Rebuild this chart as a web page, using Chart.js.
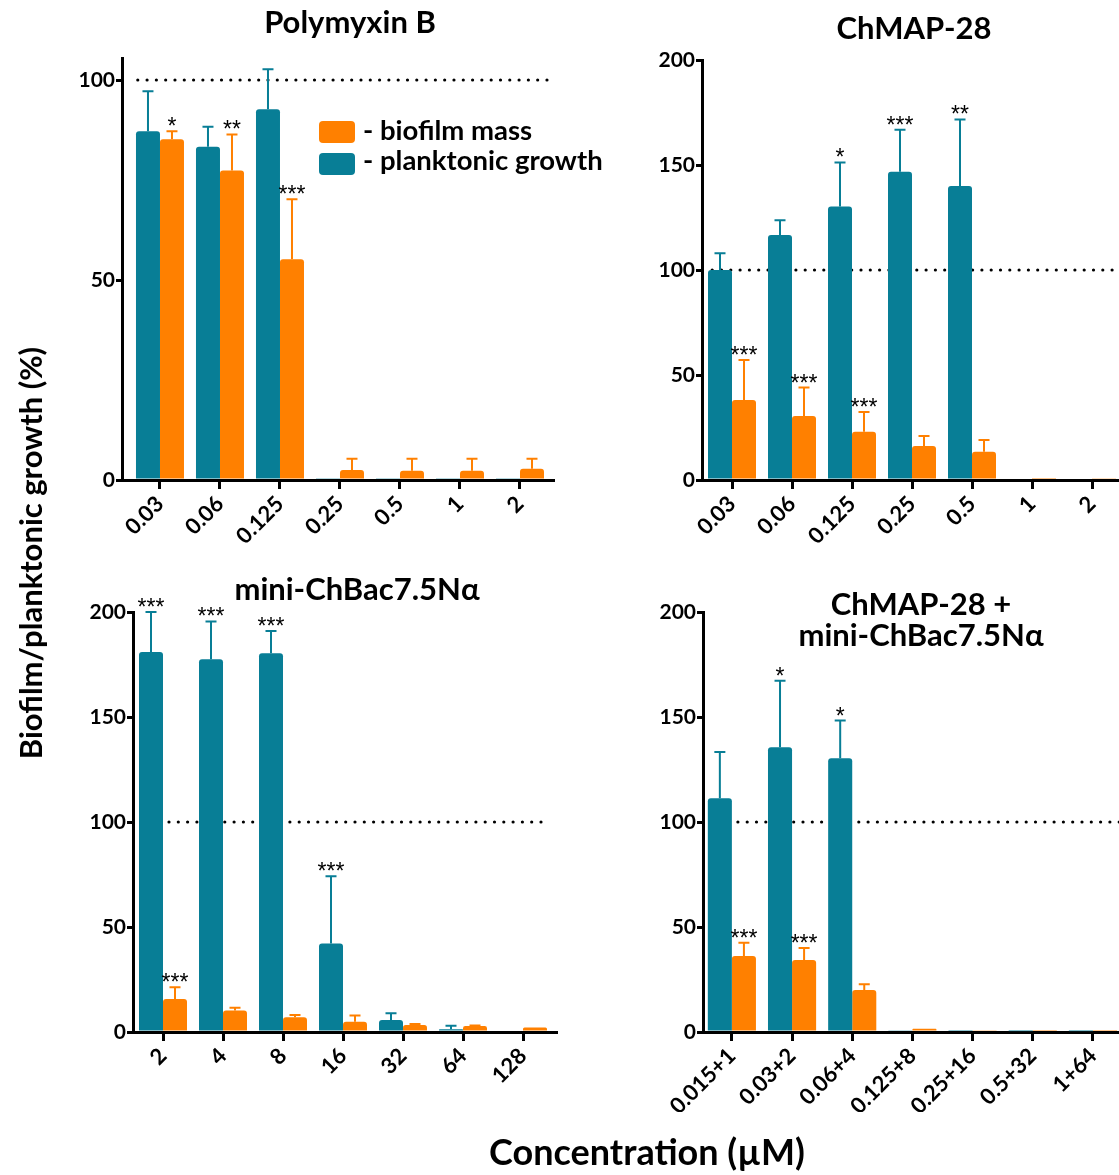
<!DOCTYPE html>
<html>
<head>
<meta charset="utf-8">
<script src="https://cdn.jsdelivr.net/npm/chart.js@4.4.1/dist/chart.umd.min.js"></script>
<style>
  html, body { margin: 0; padding: 0; background: #fff; overflow: hidden; }
  #page { position: relative; width: 1119px; height: 1175px; overflow: hidden; font-family: 'Lato', sans-serif; color: #000; }
  #page canvas { position: absolute; }
  .txt { position: absolute; font-weight: bold; white-space: nowrap; z-index: 2; }
  .title { font-size: 31px; line-height: 31px; text-align: center; }
  .legend-box { position: absolute; width: 36px; height: 22px; border-radius: 4px; z-index: 2; }
</style>
</head>
<body>
<div id="page">
  <canvas id="chartPoly" width="580" height="570" style="left:0px;top:0px"></canvas>
  <canvas id="chartChmap" width="560" height="570" style="left:580px;top:0px"></canvas>
  <canvas id="chartChbac" width="580" height="580" style="left:0px;top:560px"></canvas>
  <canvas id="chartCombo" width="560" height="580" style="left:580px;top:560px"></canvas>

  <div class="txt title" style="left:150px;top:6px;width:400px">Polymyxin B</div>
  <div class="txt title" style="left:714px;top:12px;width:400px">ChMAP-28</div>
  <div class="txt title" style="left:157px;top:573px;width:400px">mini-ChBac7.5Nα</div>
  <div class="txt title" style="left:721px;top:588px;width:400px;line-height:31px">ChMAP-28 +<br>mini-ChBac7.5Nα</div>

  <div class="legend-box" style="left:319px;top:121px;background:#ff8000"></div>
  <div class="legend-box" style="left:319px;top:153px;background:#087e96"></div>
  <div class="txt" style="left:363px;top:116px;font-size:27.5px;line-height:27.5px">- biofilm mass</div>
  <div class="txt" style="left:363px;top:146px;font-size:27.5px;line-height:27.5px">- planktonic growth</div>

  <div class="txt" style="left:347px;top:1133px;width:600px;text-align:center;font-size:36px;line-height:36px">Concentration (µM)</div>
  <div class="txt" style="left:-220px;top:537px;width:500px;text-align:center;font-size:31px;line-height:32px;transform:rotate(-90deg)">Biofilm/planktonic growth (%)</div>
</div>

<script>
// Colours used throughout
const tealColor = '#087e96';
const orangeColor = '#ff8000';
const fontFamily = "'Lato', sans-serif";
const starFont = "23px 'Liberation Sans', sans-serif";

// Polymyxin B
const polyLabels = ['0.03', '0.06', '0.125', '0.25', '0.5', '1', '2'];
const polyPlanktonic = [87.2, 83.3, 92.7, 0.3, 0.3, 0.3, 0.3];
const polyPlanktonicErr = [10, 5, 10, 0, 0, 0, 0];
const polyBiofilm = [85.2, 77.4, 55.2, 2.5, 2.3, 2.3, 2.8];
const polyBiofilmErr = [2, 9, 15, 2.8, 3, 3, 2.5];
const polyPlanktonicStars = ['', '', '', '', '', '', ''];
const polyBiofilmStars = ['*', '**', '***', '', '', '', ''];

// ChMAP-28
const chmapLabels = ['0.03', '0.06', '0.125', '0.25', '0.5', '1', '2'];
const chmapPlanktonic = [100, 116.7, 130.2, 146.8, 140, 0, 0];
const chmapPlanktonicErr = [8, 7, 21, 20, 31.7, 0, 0];
const chmapBiofilm = [38.1, 30.5, 23, 16.2, 13.5, 0.5, 0.8];
const chmapBiofilmErr = [19, 13.5, 9.4, 4.8, 5.5, 0, 0];
const chmapPlanktonicStars = ['', '', '*', '***', '**', '', ''];
const chmapBiofilmStars = ['***', '***', '***', '', '', '', ''];

// mini-ChBac7.5Na
const chbacLabels = ['2', '4', '8', '16', '32', '64', '128'];
const chbacPlanktonic = [181, 177.5, 180.3, 42.2, 5.7, 1.3, 0];
const chbacPlanktonicErr = [19, 18, 10.7, 32, 3.2, 1.7, 0];
const chbacBiofilm = [15.7, 10.2, 7, 4.9, 3.3, 2.9, 2.2];
const chbacBiofilmErr = [5.6, 1.4, 1.1, 2.9, 0.5, 0.2, 0];
const chbacPlanktonicStars = ['***', '***', '***', '***', '', '', ''];
const chbacBiofilmStars = ['***', '', '', '', '', '', ''];

// ChMAP-28 + mini-ChBac7.5Na
const comboLabels = ['0.015+1', '0.03+2', '0.06+4', '0.125+8', '0.25+16', '0.5+32', '1+64'];
const comboPlanktonic = [111.3, 135.6, 130.3, 0.8, 0.5, 0.4, 0.4];
const comboPlanktonicErr = [22, 31.7, 18, 0, 0, 0, 0];
const comboBiofilm = [36.2, 34.3, 20, 1.5, 0.8, 0.5, 0.5];
const comboBiofilmErr = [6.3, 5.7, 2.7, 0, 0, 0, 0];
const comboPlanktonicStars = ['', '*', '*', '', '', '', ''];
const comboBiofilmStars = ['***', '***', '', '', '', '', ''];

// Draws the dotted 100% line under the bars, error bars and asterisks above them
const extrasPlugin = {
  id: 'extras',
  beforeDatasetsDraw(chart, args, opts) {
    const { ctx, scales: { x, y } } = chart;
    const yy = y.getPixelForValue(100);
    ctx.save();
    ctx.strokeStyle = '#000';
    ctx.lineWidth = 3.2;
    ctx.lineCap = 'round';
    ctx.setLineDash([0, 9.3]);
    ctx.beginPath();
    ctx.moveTo(x.getPixelForValue(opts.refFrom), yy);
    ctx.lineTo(x.getPixelForValue(opts.refTo), yy);
    ctx.stroke();
    ctx.restore();
  },
  afterDatasetsDraw(chart) {
    const { ctx, scales: { y } } = chart;
    ctx.save();
    chart.data.datasets.forEach((ds, i) => {
      const meta = chart.getDatasetMeta(i);
      meta.data.forEach((bar, j) => {
        const err = ds.errors[j];
        let top = bar.y;
        if (err > 0) {
          top = y.getPixelForValue(ds.data[j] + err);
          ctx.strokeStyle = ds.backgroundColor;
          ctx.lineWidth = 2;
          ctx.beginPath();
          ctx.moveTo(bar.x, bar.y);
          ctx.lineTo(bar.x, top);
          ctx.moveTo(bar.x - 5.5, top);
          ctx.lineTo(bar.x + 5.5, top);
          ctx.stroke();
        }
        const star = ds.stars[j];
        if (star) {
          ctx.fillStyle = '#000';
          ctx.font = starFont;
          ctx.textAlign = 'center';
          ctx.textBaseline = 'alphabetic';
          ctx.fillText(star, bar.x, top + 3);
        }
      });
    });
    ctx.restore();
  }
};

function createPanel(id, cfg) {
  const ctx = document.getElementById(id);
  return new Chart(ctx, {
    type: 'bar',
    data: {
      labels: cfg.labels.map((_, i) => i),
      datasets: [
        {
          label: '- planktonic growth',
          data: cfg.planktonic,
          errors: cfg.planktonicErr,
          stars: cfg.planktonicStars,
          backgroundColor: tealColor
        },
        {
          label: '- biofilm mass',
          data: cfg.biofilm,
          errors: cfg.biofilmErr,
          stars: cfg.biofilmStars,
          backgroundColor: orangeColor
        }
      ]
    },
    options: {
      responsive: false,
      animation: false,
      devicePixelRatio: 1,
      layout: { padding: cfg.padding },
      datasets: {
        bar: {
          barPercentage: 1,
          categoryPercentage: 0.8,
          borderRadius: { topLeft: 3, topRight: 3 },
          borderSkipped: 'start'
        }
      },
      plugins: {
        legend: { display: false },
        tooltip: { enabled: false },
        extras: { refFrom: cfg.refFrom, refTo: cfg.refTo }
      },
      scales: {
        x: {
          type: 'linear',
          min: cfg.xMin,
          max: cfg.xMax,
          offset: false,
          afterBuildTicks(scale) {
            scale.ticks = cfg.labels.map((_, i) => ({ value: i }));
          },
          afterFit(scale) { scale.height = 80; },
          border: { color: '#000', width: 3 },
          grid: { offset: false, drawOnChartArea: false, color: '#000', lineWidth: 3, tickLength: 9 },
          ticks: {
            autoSkip: false,
            maxRotation: 45,
            minRotation: 45,
            padding: 2,
            color: '#000',
            font: { family: fontFamily, size: 22, weight: 'bold' },
            callback: (v) => cfg.labels[v] !== undefined ? cfg.labels[v] : ''
          }
        },
        y: {
          min: 0,
          max: cfg.yMax,
          afterFit(scale) { scale.width = 60; },
          border: { color: '#000', width: 3 },
          grid: { drawOnChartArea: false, color: '#000', lineWidth: 3, tickLength: 6 },
          ticks: {
            stepSize: 50,
            includeBounds: false,
            padding: 1,
            color: '#000',
            font: { family: fontFamily, size: 21, weight: 'bold' }
          }
        }
      }
    },
    plugins: [extrasPlugin]
  });
}

createPanel('chartPoly', {
  labels: polyLabels,
  planktonic: polyPlanktonic, planktonicErr: polyPlanktonicErr, planktonicStars: polyPlanktonicStars,
  biofilm: polyBiofilm, biofilmErr: polyBiofilmErr, biofilmStars: polyBiofilmStars,
  padding: { left: 62, right: 27, top: 58, bottom: 10 },
  xMin: -0.633, xMax: 6.55, yMax: 105.5, refFrom: -0.37, refTo: 6.45
});

createPanel('chartChmap', {
  labels: chmapLabels,
  planktonic: chmapPlanktonic, planktonicErr: chmapPlanktonicErr, planktonicStars: chmapPlanktonicStars,
  biofilm: chmapBiofilm, biofilmErr: chmapBiofilmErr, biofilmStars: chmapBiofilmStars,
  padding: { left: 62, right: 18, top: 60, bottom: 10 },
  xMin: -0.5, xMax: 6.5, yMax: 200, refFrom: -0.33, refTo: 7
});

createPanel('chartChbac', {
  labels: chbacLabels,
  planktonic: chbacPlanktonic, planktonicErr: chbacPlanktonicErr, planktonicStars: chbacPlanktonicStars,
  biofilm: chbacBiofilm, biofilmErr: chbacBiofilmErr, biofilmStars: chbacBiofilmStars,
  padding: { left: 73, right: 24, top: 52, bottom: 28 },
  xMin: -0.5, xMax: 6.55, yMax: 200, refFrom: 0.1, refTo: 6.4
});

createPanel('chartCombo', {
  labels: comboLabels,
  planktonic: comboPlanktonic, planktonicErr: comboPlanktonicErr, planktonicStars: comboPlanktonicStars,
  biofilm: comboBiofilm, biofilmErr: comboBiofilmErr, biofilmStars: comboBiofilmStars,
  padding: { left: 63, right: 17, top: 52, bottom: 28 },
  xMin: -0.48, xMax: 6.5, yMax: 200, refFrom: 0.1, refTo: 7
});
</script>
</body>
</html>
